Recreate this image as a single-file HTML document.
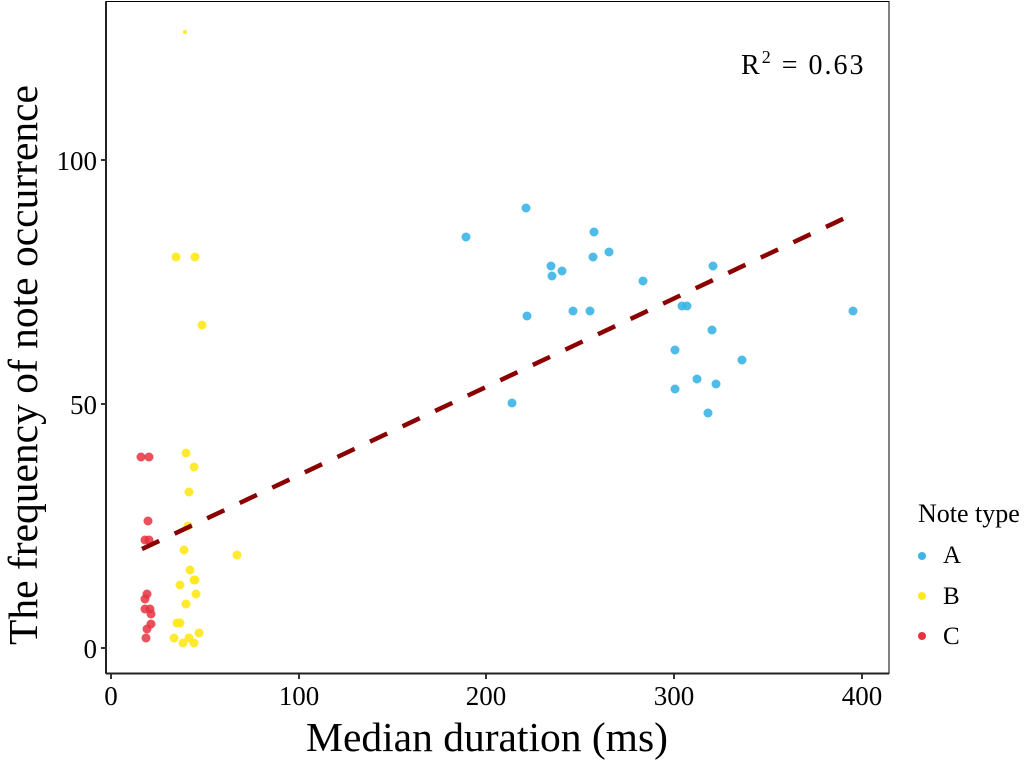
<!DOCTYPE html>
<html><head><meta charset="utf-8"><style>html,body{margin:0;padding:0;background:#fff}svg{display:block}text{font-family:"Liberation Serif",serif;fill:#000}</style></head>
<body>
<svg width="1028" height="763" viewBox="0 0 1028 763" xmlns="http://www.w3.org/2000/svg">
<rect x="106" y="1.5" width="783" height="672" fill="none" stroke="#000" stroke-width="1"/>
<line x1="106" y1="1.5" x2="106" y2="673.5" stroke="#222" stroke-width="2"/>
<line x1="106" y1="673.5" x2="889" y2="673.5" stroke="#222" stroke-width="2"/>
<g stroke="#333" stroke-width="2">
<line x1="101" y1="648" x2="106" y2="648"/><line x1="101" y1="404" x2="106" y2="404"/><line x1="101" y1="160" x2="106" y2="160"/>
<line x1="111" y1="674" x2="111" y2="679"/><line x1="299" y1="674" x2="299" y2="679"/><line x1="486" y1="674" x2="486" y2="679"/><line x1="674" y1="674" x2="674" y2="679"/><line x1="862" y1="674" x2="862" y2="679"/>
</g>
<g font-size="27" text-anchor="end">
<text x="97" y="658">0</text><text x="97" y="414">50</text><text x="97" y="170">100</text>
</g>
<g font-size="27" text-anchor="middle">
<text x="111" y="705">0</text><text x="299" y="705">100</text><text x="486" y="705">200</text><text x="674" y="705">300</text><text x="862" y="705">400</text>
</g>
<text x="487" y="751" font-size="41.5" text-anchor="middle">Median duration (ms)</text>
<text transform="translate(37,365) rotate(-90)" font-size="41.5" text-anchor="middle">The frequency of note occurrence</text>
<text x="741" y="74" font-size="28" letter-spacing="2">R<tspan dy="-11" font-size="18">2</tspan><tspan dy="11"> = 0.63</tspan></text>
<g fill="#3cb4e5" fill-opacity="0.9">
<circle cx="466" cy="237" r="4.5"/><circle cx="526" cy="208" r="4.5"/><circle cx="594" cy="232" r="4.5"/><circle cx="551" cy="266" r="4.5"/><circle cx="552" cy="276" r="4.5"/><circle cx="562" cy="271" r="4.5"/><circle cx="593" cy="257" r="4.5"/><circle cx="609" cy="252" r="4.5"/><circle cx="643" cy="281" r="4.5"/><circle cx="527" cy="316" r="4.5"/><circle cx="573" cy="311" r="4.5"/><circle cx="590" cy="311" r="4.5"/><circle cx="682" cy="306" r="4.5"/><circle cx="687" cy="306" r="4.5"/><circle cx="713" cy="266" r="4.5"/><circle cx="853" cy="311" r="4.5"/><circle cx="712" cy="330" r="4.5"/><circle cx="675" cy="350" r="4.5"/><circle cx="742" cy="360" r="4.5"/><circle cx="697" cy="379" r="4.5"/><circle cx="716" cy="384" r="4.5"/><circle cx="675" cy="389" r="4.5"/><circle cx="708" cy="413" r="4.5"/><circle cx="512" cy="403" r="4.5"/>
</g>
<g fill="#ffe81a" fill-opacity="0.9">
<circle cx="186" cy="453" r="4.5"/><circle cx="194" cy="467" r="4.5"/><circle cx="189" cy="492" r="4.5"/><circle cx="188" cy="526" r="4.5"/><circle cx="184" cy="550" r="4.5"/><circle cx="237" cy="555" r="4.5"/><circle cx="190" cy="570" r="4.5"/><circle cx="194" cy="580" r="4.5"/><circle cx="195" cy="580" r="4.5"/><circle cx="180" cy="585" r="4.5"/><circle cx="196" cy="594" r="4.5"/><circle cx="186" cy="604" r="4.5"/><circle cx="177" cy="623" r="4.5"/><circle cx="180" cy="623" r="4.5"/><circle cx="199" cy="633" r="4.5"/><circle cx="174" cy="638" r="4.5"/><circle cx="183" cy="643" r="4.5"/><circle cx="189" cy="638" r="4.5"/><circle cx="194" cy="643" r="4.5"/><circle cx="176" cy="257" r="4.5"/><circle cx="195" cy="257" r="4.5"/><circle cx="202" cy="325" r="4.5"/><circle cx="185" cy="32" r="2"/>
</g>
<g fill="#e8333f" fill-opacity="0.85">
<circle cx="141" cy="457" r="4.5"/><circle cx="149" cy="457" r="4.5"/><circle cx="148" cy="521" r="4.5"/><circle cx="145" cy="540" r="4.5"/><circle cx="149" cy="540" r="4.5"/><circle cx="147" cy="594" r="4.5"/><circle cx="145" cy="599" r="4.5"/><circle cx="145" cy="609" r="4.5"/><circle cx="150" cy="609" r="4.5"/><circle cx="151" cy="614" r="4.5"/><circle cx="151" cy="624" r="4.5"/><circle cx="147" cy="629" r="4.5"/><circle cx="146" cy="638" r="4.5"/>
</g>
<line x1="142" y1="549" x2="847" y2="217" stroke="#8b0000" stroke-width="4.5" stroke-dasharray="19,17"/>
<text x="918" y="522" font-size="26">Note type</text>
<circle cx="922" cy="556" r="4" fill="#3cb4e5"/><circle cx="922" cy="596" r="4" fill="#ffe81a"/><circle cx="922" cy="636" r="4" fill="#e8333f"/>
<g font-size="25"><text x="943" y="563">A</text><text x="943" y="604">B</text><text x="943" y="644">C</text></g>
</svg>
</body></html>
